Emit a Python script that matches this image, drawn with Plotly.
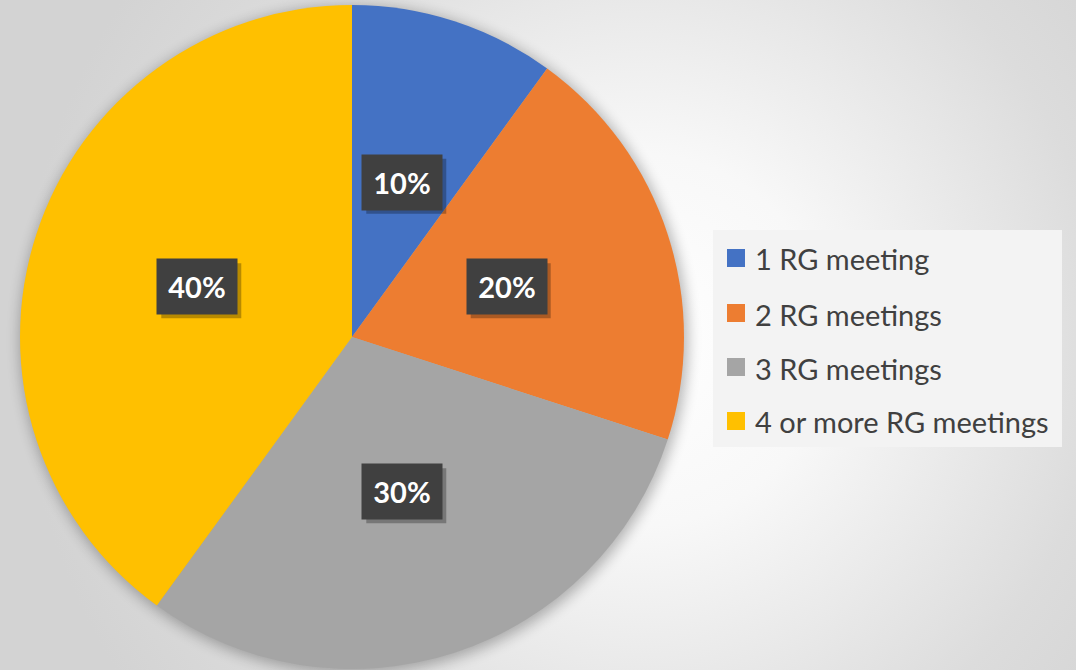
import base64
import math
import plotly.graph_objects as go

# ---- data ----
labels = ["1 RG meeting", "2 RG meetings", "3 RG meetings", "4 or more RG meetings"]
values = [10, 20, 30, 40]
colors = ["#4472C4", "#ED7D31", "#A5A5A5", "#FFC000"]

W, H = 1076, 670
CX, CY, R = 352, 337, 332  # pie centre / radius in pixels

# background: radial gradient + soft pie shadow
svg = f'''<svg xmlns="http://www.w3.org/2000/svg" width="{W}" height="{H}" viewBox="0 0 {W} {H}">
<defs>
<radialGradient id="g" cx="640" cy="340" r="620" gradientUnits="userSpaceOnUse">
<stop offset="0" stop-color="#ffffff"/>
<stop offset="0.3" stop-color="#f8f8f8"/>
<stop offset="0.75" stop-color="#dcdcdc"/>
<stop offset="1" stop-color="#d3d3d3"/>
</radialGradient>
<filter id="b" x="-20%" y="-20%" width="140%" height="140%"><feGaussianBlur stdDeviation="7"/></filter>
</defs>
<rect x="0" y="0" width="{W}" height="{H}" fill="url(#g)"/>
<circle cx="{CX+2}" cy="{CY+3}" r="{R+2}" fill="#000" opacity="0.28" filter="url(#b)"/>
</svg>'''
bg_src = "data:image/svg+xml;base64," + base64.b64encode(svg.encode()).decode()

fig = go.Figure(go.Pie(
    labels=labels, values=values, sort=False, direction="clockwise", rotation=0,
    marker=dict(colors=colors, line=dict(width=0)),
    textinfo="none", hoverinfo="label+percent", showlegend=False,
    domain=dict(x=[(CX - R) / W, (CX + R) / W], y=[(H - CY - R) / H, (H - CY + R) / H]),
))

annotations = []
shapes = []
total = sum(values)
cum = 0
BW, BH = 80, 55
for v in values:
    mid = (cum + v / 2) / total * 2 * math.pi
    cum += v
    px = CX + 0.49 * R * math.sin(mid)
    py = CY - 0.49 * R * math.cos(mid)
    # box shadow
    shapes.append(dict(type="rect", xref="paper", yref="paper",
                       x0=(px - BW / 2 + 4) / W, x1=(px + BW / 2 + 4) / W,
                       y0=1 - (py + BH / 2 + 4) / H, y1=1 - (py - BH / 2 + 4) / H,
                       fillcolor="rgba(0,0,0,0.28)", line=dict(width=0), layer="above"))
    annotations.append(dict(text=f"<b>{round(v / total * 100)}%</b>",
                            x=px / W, y=1 - py / H, xref="paper", yref="paper", showarrow=False,
                            width=BW - 2, height=BH - 2, borderpad=1,
                            xanchor="center", yanchor="middle",
                            font=dict(family="Lato", size=29, color="#ffffff"),
                            bgcolor="#404040"))

# legend (drawn manually)
shapes.append(dict(type="rect", xref="paper", yref="paper", x0=713 / W, x1=1062 / W,
                   y0=1 - 447 / H, y1=1 - 230 / H, fillcolor="#f3f3f3", line=dict(width=0),
                   layer="above"))
row_y = [259, 314, 368, 422]
for lab, col, yc in zip(labels, colors, row_y):
    shapes.append(dict(type="rect", xref="paper", yref="paper", x0=727 / W, x1=745 / W,
                       y0=1 - (yc + 8) / H, y1=1 - (yc - 10) / H, fillcolor=col,
                       line=dict(width=0), layer="above"))
    annotations.append(dict(text=lab, x=753 / W, y=1 - yc / H, xref="paper", yref="paper",
                            xanchor="left", yanchor="middle", showarrow=False,
                            font=dict(family="Lato", size=29, color="#404040")))

fig.update_layout(
    width=W, height=H, margin=dict(l=0, r=0, t=0, b=0),
    paper_bgcolor="#e6e6e6", plot_bgcolor="rgba(0,0,0,0)",
    images=[dict(source=bg_src, xref="paper", yref="paper", x=0, y=1, sizex=1, sizey=1,
                 xanchor="left", yanchor="top", sizing="stretch", layer="below")],
    annotations=annotations, shapes=shapes,
)

fig.write_html("out.html", config={"displayModeBar": False},
               post_script="document.body.style.margin='0';document.body.style.overflow='hidden';")
